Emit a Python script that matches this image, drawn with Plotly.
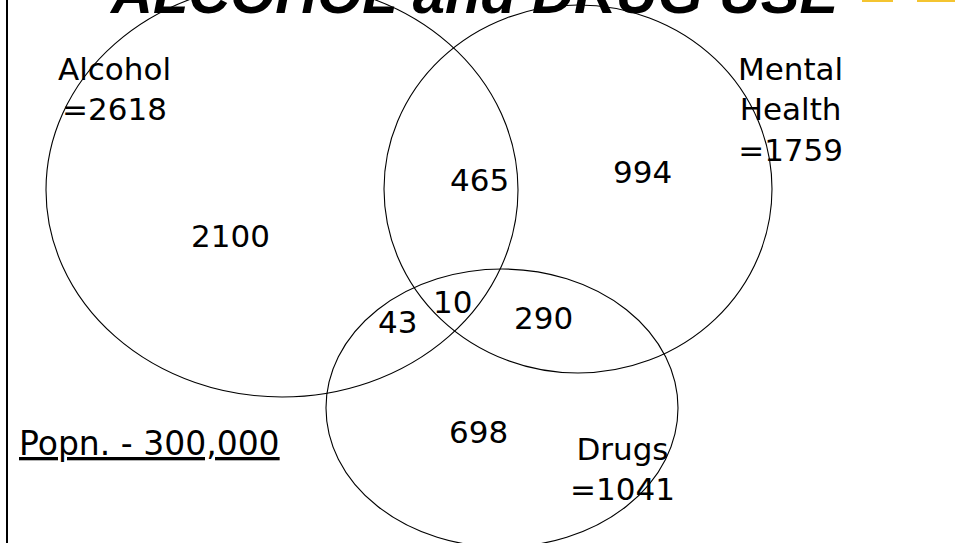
import plotly.graph_objects as go

W, H = 961, 543

# ---- data ----
region_counts = ["2100", "465", "994", "43", "10", "290", "698"]
region_names = ["Alcohol only", "Alcohol+Mental", "Mental only", "Alcohol+Drugs",
                "All three", "Mental+Drugs", "Drugs only"]
set_labels = ["Alcohol<br>=2618", "Mental<br>Health<br>=1759", "Drugs<br>=1041"]
population_label = "Popn. - 300,000"
title_text = "ALCOHOL and DRUG USE"

# ---- layout geometry (pixel space) ----
region_pos = [(230, 236), (479, 180), (642, 172), (397, 322), (452, 302), (543, 318), (478, 432)]
set_pos = [(114, 89), (790, 109), (622, 469)]
ellipses = [  # cx, cy, rx, ry
    (282, 190, 236, 207),
    (578, 189, 194, 184),
    (502, 408, 176, 139),
]

FONT = "DejaVu Sans, Verdana, sans-serif"
FS = 31

fig = go.Figure()
fig.add_trace(go.Scatter(x=[0, W], y=[0, H], mode="markers",
                         marker=dict(opacity=0), hoverinfo="skip", showlegend=False))

for cx, cy, rx, ry in ellipses:
    fig.add_shape(type="circle", xref="x", yref="y",
                  x0=cx - rx, x1=cx + rx, y0=cy - ry, y1=cy + ry,
                  line=dict(color="black", width=1.1), fillcolor="rgba(0,0,0,0)")

for txt, (x, y) in zip(region_counts, region_pos):
    fig.add_annotation(x=x, y=y, xref="x", yref="y", text=txt, showarrow=False,
                       font=dict(family=FONT, size=FS, color="black"),
                       xanchor="center", yanchor="middle")

for txt, (x, y) in zip(set_labels, set_pos):
    fig.add_annotation(x=x, y=y, xref="x", yref="y", text=txt, showarrow=False,
                       font=dict(family=FONT, size=FS, color="black"),
                       xanchor="center", yanchor="middle", align="center")

fig.add_annotation(x=149, y=443, xref="x", yref="y", text="<u>" + population_label + "</u>",
                   showarrow=False, font=dict(family=FONT, size=33, color="black"),
                   xanchor="center", yanchor="middle")

# title (cut off at the top)
fig.add_annotation(x=474 / W, y=1 + 8 / H, xref="paper", yref="paper",
                   text="<b><i>" + title_text + "</i></b>", showarrow=False,
                   font=dict(family="Liberation Sans, Arial, sans-serif", size=58, color="black"),
                   xanchor="center", yanchor="middle")

# left border line
fig.add_shape(type="line", xref="paper", yref="paper", x0=7 / W, x1=7 / W, y0=0, y1=1,
              line=dict(color="black", width=2))
# small yellow marks at top right
for x0, x1 in [(862, 893), (917, 955)]:
    fig.add_shape(type="rect", xref="paper", yref="paper",
                  x0=x0 / W, x1=x1 / W, y0=1 - 2 / H, y1=1,
                  line=dict(width=0), fillcolor="#F4C430")

fig.update_layout(
    width=W, height=H, margin=dict(l=0, r=0, t=0, b=0),
    paper_bgcolor="white", plot_bgcolor="white",
    xaxis=dict(range=[0, W], visible=False, fixedrange=True),
    yaxis=dict(range=[H, 0], visible=False, fixedrange=True),
    showlegend=False,
)

fig.write_html("out.html", config={"displayModeBar": False},
               post_script="document.body.style.margin='0px';document.body.style.overflow='hidden';")
